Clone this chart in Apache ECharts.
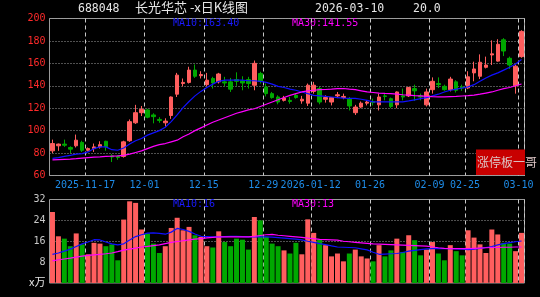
<!DOCTYPE html>
<html>
<head>
<meta charset="utf-8">
<script src="https://cdn.jsdelivr.net/npm/echarts@6/dist/echarts.min.js"></script>
<style>html,body{margin:0;padding:0;background:#000;}#c{width:540px;height:297px;}</style>
</head>
<body>
<div id="c"></div>
<script>
const dates = ['2025-11-07','2025-11-10','2025-11-11','2025-11-12','2025-11-13','2025-11-14','2025-11-17','2025-11-18','2025-11-19','2025-11-20',
'2025-11-21','2025-11-24','2025-11-25','2025-11-26','2025-11-27','2025-11-28','2025-12-01','2025-12-02','2025-12-03','2025-12-04',
'2025-12-05','2025-12-08','2025-12-09','2025-12-10','2025-12-11','2025-12-12','2025-12-15','2025-12-16','2025-12-17','2025-12-18',
'2025-12-19','2025-12-22','2025-12-23','2025-12-24','2025-12-25','2025-12-26','2025-12-29','2025-12-30','2025-12-31','2026-01-05',
'2026-01-06','2026-01-07','2026-01-08','2026-01-09','2026-01-12','2026-01-13','2026-01-14','2026-01-15','2026-01-16','2026-01-19',
'2026-01-20','2026-01-21','2026-01-22','2026-01-23','2026-01-26','2026-01-27','2026-01-28','2026-01-29','2026-01-30','2026-02-02',
'2026-02-03','2026-02-04','2026-02-05','2026-02-06','2026-02-09','2026-02-10','2026-02-11','2026-02-12','2026-02-13','2026-02-24',
'2026-02-25','2026-02-26','2026-02-27','2026-03-02','2026-03-03','2026-03-04','2026-03-05','2026-03-06','2026-03-09','2026-03-10'];

const opens = [82,86.5,88,85,86.5,89.5,82.5,84,85.5,90.5,
77.5,77,77,91,107,116,118.5,114,110,107,
113.5,132.5,142,143,154,149,141,146.5,143.5,143.5,
143.5,145.5,144.5,145.5,140.5,151,139,133,130,127,
127,131.5,126.5,124.5,135,137.5,128,125.5,131,129.5,
128,116,121,124.5,126,123,131,128.5,123,131,
131,137.5,131,123,136.5,142,139.5,136.5,143.5,139,
138,151.5,148.5,156.5,167.5,162,181,164.5,140,166];
const highs = [92,88.5,92,86,96.5,91,85,88.5,90.5,91,
79,78,91,110,123,122,119.5,115.5,112,111,
130.5,151.5,146.5,157,159,153,151.5,148,151.5,148,
147,152,148.5,148,162.5,152.5,142,134.5,131.5,131,
130,133,131,142,143.5,139,131.5,130,134.5,133,
130,123,126,127,128.5,133,133,129.5,135,137.5,
139,141,133,137.5,147.5,147.5,141,148,145,141,
153,161.5,168,166,180.5,181.5,182.5,166,159,189.5];
const lows = [80,82,85.5,80,85,81,81.5,81,84,82,
72,74,76,90,106,113,111,106.5,107,103.5,
110.5,130,139.5,142,147,146.5,139.5,137.5,142,139.5,
134.5,140,136,137.5,136,142,130.5,128.5,123.5,126,
124,128.5,124,122,133,123.5,125,122.5,129,128,
118,114,120,122.5,122.5,118,127,120,120,127,
130,126.5,127,121.5,133,138,135.5,135,134,135.5,
137,144,146,155.5,158.5,161.5,166.5,155,133,165];
const closes = [88.5,88,87,83.5,91.5,82.5,84,85.5,87.5,85.5,
76.5,76,90,108,116,119,112,112.5,109,108.5,
130,149.5,143,154,148.5,150,145,142.5,150.5,142.5,
137,144,142.5,142,160,144,133,129.5,125.5,129,
126,129.5,128,140.5,140.5,125.5,129.5,129.5,132,130.5,
122,121,124.5,125.5,125,130,130.5,121.5,134.5,130,
138.5,135.5,130,134.5,144,141,136.5,146,136,138,
148,155,161,158.5,168.5,177,171,158.5,157.5,188.5];

const ma10 = [75.2,76,77,78,79,79.5,81,84,85.5,85.5,
83,82.5,84.5,88,91,93,96,98,100,103,
108,114,120.5,126,131,135,138.5,141.5,144,145,
145,145,145,144.5,144.5,144,143,141.5,139.5,138.5,
137,136,134.5,133,131.5,131,130.5,130,129.5,129,
128.7,128.7,128,127,125.7,125.6,125.6,125.6,125.6,125.6,
126.5,127.5,128.5,129.5,131,132.5,134.5,136,137,138,
139,141,144,147,149.5,151.5,154,156.5,159.5,163.4];
const ma30 = [74,74.2,74.4,74.6,75,75.5,76,76.3,76.6,77,
77.2,77.5,78,79,80.5,82,84,86,87.5,88.5,
90,91.5,94.5,97,100,102.5,105,107.5,109.5,111.5,
113.5,115.5,117,118.5,119.5,121.5,123.5,125.5,127.5,129.5,
131.5,133,134.5,135.5,136,136.5,136.7,137,137.5,137.6,
137,136.5,135.5,134.5,134,133.5,133.2,133,132.5,132,
131.7,131.3,131,130.5,130.3,130.2,130.2,130.4,130.6,130.9,
131.2,131.6,132.5,133.5,134.5,136,137.4,138.5,140,141.55];

const volumes = [27.2,17.9,17,14.1,19,14.8,11,15.4,15.1,14.1,
14.8,8.7,24.3,31.3,30.7,20.5,19,15.1,11.5,14.1,
21.1,25,20.2,21.5,18.3,17.7,14.1,13.6,19.8,15.7,
14.1,17,16.6,12.8,25.3,24,17.7,15.1,14.1,12.5,
11.3,15.4,11,24.4,19.2,16.6,14.5,10.2,11.3,8.3,
11.3,12.8,10.2,9.4,8.3,14.5,10.2,12.5,17,11.9,
18.3,16.4,10.6,12.8,15.7,11.3,8.7,14.5,12.2,10.6,
20.2,17.4,14.8,11.5,20.5,18.6,15.4,15.1,12.2,19.2];
const volMa10 = [11,11.5,12.2,13,14,15,15.7,16.6,16.5,15.7,
15,14.6,15,16.5,17.8,18.5,19.1,19.2,19,18.7,
19.5,20.9,20.5,19.8,18.8,17.9,17.8,17.7,17.7,17.8,
17.9,17.9,17.8,17.7,17.7,17.7,17.7,17.6,17.4,17.2,
17,16.8,16.5,16,15.6,15.1,14.7,14.2,13.8,13.7,
13.6,13.5,13.1,12.7,11.8,11,11.1,11.2,11.3,11.7,
12.2,12.5,12.8,13.1,13.2,13.2,13.2,13.2,13.1,13,
12.8,13,13.3,13.6,14,14.6,15.1,15.5,15.8,16.1];
const volMa30 = [8.5,8.9,9.2,9.5,9.9,10.3,10.6,10.8,11,11.2,
11.5,12,12.6,13,13.4,13.8,14,14.3,14.6,15.1,
15.6,15.9,16.2,16.5,16.8,17,17.3,17.5,17.7,17.7,
17.7,17.7,17.7,17.7,17.9,18.2,18.5,18.6,18.3,18.1,
17.9,17.7,17.5,17.2,17,16.7,16.6,16.5,16.4,16,
15.8,15.6,15.4,15.2,15,14.9,14.8,14.7,14.6,14.5,
14.4,14.3,14.2,14.1,13.8,13.5,13.3,13.2,13.2,13.2,
13.2,13.3,13.4,13.5,13.6,13.6,13.7,13.7,13.8,13.8];

const labelDates = ['2025-11-17','2025-12-01','2025-12-15','2025-12-29','2026-01-12','2026-01-26','2026-02-09','2026-02-25','2026-03-10'];
const labelTexts = ['2025-11-17','12-01','12-15','12-29','2026-01-12','01-26','02-09','02-25','03-10'];
const priceTicks = {min: 60, max: 200, step: 20};
const volTicks = {min: 0, max: 32, step: 8};

const UP = '#ff5e5e', DOWN = '#00a800';
const MONO = 'DejaVu Sans Mono';
const CJK = 'Noto Sans CJK SC';

const kData = dates.map((d, i) => [opens[i], closes[i], lows[i], highs[i]]);
const isLabel = (idx, val) => labelDates.indexOf(val) >= 0;
const vSplit = {show: true, interval: isLabel, lineStyle: {color: '#c8c8c8', type: [4, 3], width: 1}};

const chart = echarts.init(document.getElementById('c'), null, {renderer: 'canvas'});
chart.setOption({
  backgroundColor: '#000',
  animation: false,
  grid: [
    {left: 49.5, top: 18.5, width: 475, height: 157, show: true, borderColor: '#9a9a9a', borderWidth: 1},
    {left: 49.5, top: 199.5, width: 475, height: 83.5, show: true, borderColor: '#9a9a9a', borderWidth: 1}
  ],
  xAxis: [
    {type: 'category', gridIndex: 0, data: dates, boundaryGap: true,
     axisLine: {show: false}, axisTick: {show: false},
     axisLabel: {interval: isLabel, formatter: v => labelTexts[labelDates.indexOf(v)] || '',
       color: '#1e8ce8', fontFamily: MONO, fontSize: 10, margin: 5, padding: [0, 6, 0, 0]},
     splitLine: vSplit},
    {type: 'category', gridIndex: 1, data: dates, boundaryGap: true,
     axisLine: {show: false}, axisTick: {show: false}, axisLabel: {show: false},
     splitLine: vSplit}
  ],
  yAxis: [
    {type: 'value', gridIndex: 0, min: priceTicks.min, max: priceTicks.max, interval: priceTicks.step,
     axisLine: {show: false}, axisTick: {show: false},
     axisLabel: {color: '#ff2a2a', fontFamily: MONO, fontSize: 10, margin: 4},
     splitLine: {show: true, lineStyle: {color: '#a0a0a0', type: [1, 2], width: 1}}},
    {type: 'value', gridIndex: 1, min: volTicks.min, max: volTicks.max, interval: volTicks.step,
     axisLine: {show: false}, axisTick: {show: false},
     axisLabel: {color: '#c8c8c8', fontFamily: MONO, fontSize: 10, margin: 4, formatter: v => v === 0 ? '' : String(v)},
     splitLine: {show: false}}
  ],
  series: [
    {type: 'candlestick', xAxisIndex: 0, yAxisIndex: 0, data: kData, barWidth: 4,
     itemStyle: {color: UP, color0: DOWN, borderColor: UP, borderColor0: DOWN, borderWidth: 1}},
    {type: 'line', xAxisIndex: 0, yAxisIndex: 0, data: ma10, showSymbol: false, symbol: 'none',
     lineStyle: {color: '#1010ff', width: 1.2}, z: 3},
    {type: 'line', xAxisIndex: 0, yAxisIndex: 0, data: ma30, showSymbol: false, symbol: 'none',
     lineStyle: {color: '#ff00ff', width: 1.2}, z: 3},
    {type: 'bar', xAxisIndex: 1, yAxisIndex: 1, data: volumes, barWidth: 5,
     itemStyle: {color: p => closes[p.dataIndex] >= opens[p.dataIndex] ? UP : DOWN},
     markLine: {silent: true, symbol: 'none', label: {show: false},
       lineStyle: {color: '#a0a0a0', type: [1, 2], width: 1},
       data: [{yAxis: 24}, {yAxis: 16}], z: 1}},
    {type: 'line', xAxisIndex: 1, yAxisIndex: 1, data: volMa10, showSymbol: false, symbol: 'none',
     lineStyle: {color: '#1010ff', width: 1.2}, z: 3},
    {type: 'line', xAxisIndex: 1, yAxisIndex: 1, data: volMa30, showSymbol: false, symbol: 'none',
     lineStyle: {color: '#ff00ff', width: 1.2}, z: 3}
  ],
  graphic: [
    {type: 'text', left: 78, top: 3, style: {text: '688048', fill: '#e6e6e6', fontFamily: MONO, fontSize: 11.5}},
    {type: 'text', left: 135, top: 1, style: {text: '长光华芯 -x日K线图', fill: '#e6e6e6', fontFamily: CJK, fontSize: 13}},
    {type: 'text', left: 315, top: 3, style: {text: '2026-03-10', fill: '#e6e6e6', fontFamily: MONO, fontSize: 11.5}},
    {type: 'text', left: 413, top: 3, style: {text: '20.0', fill: '#e6e6e6', fontFamily: MONO, fontSize: 11.5}},
    {type: 'text', left: 173, top: 18, style: {text: 'MA10:163.40', fill: '#1a1aff', fontFamily: MONO, fontSize: 10}},
    {type: 'text', left: 292, top: 18, style: {text: 'MA30:141.55', fill: '#ff00ff', fontFamily: MONO, fontSize: 10}},
    {type: 'text', left: 173, top: 199, style: {text: 'MA10:16', fill: '#1a1aff', fontFamily: MONO, fontSize: 10}},
    {type: 'text', left: 292, top: 199, style: {text: 'MA30:13', fill: '#ff00ff', fontFamily: MONO, fontSize: 10}},
    {type: 'text', left: 29, top: 276, style: {text: 'x万', fill: '#e6e6e6', fontFamily: CJK, fontSize: 11}},
    {type: 'rect', shape: {x: 476, y: 149.5, width: 49, height: 25.5}, style: {fill: '#c80000'}, z: 10},
    {type: 'text', left: 477, top: 156, z: 11, style: {text: '涨停板一哥', fill: '#dcc4c4', fontFamily: CJK, fontSize: 12}}
  ]
});
</script>
</body>
</html>
